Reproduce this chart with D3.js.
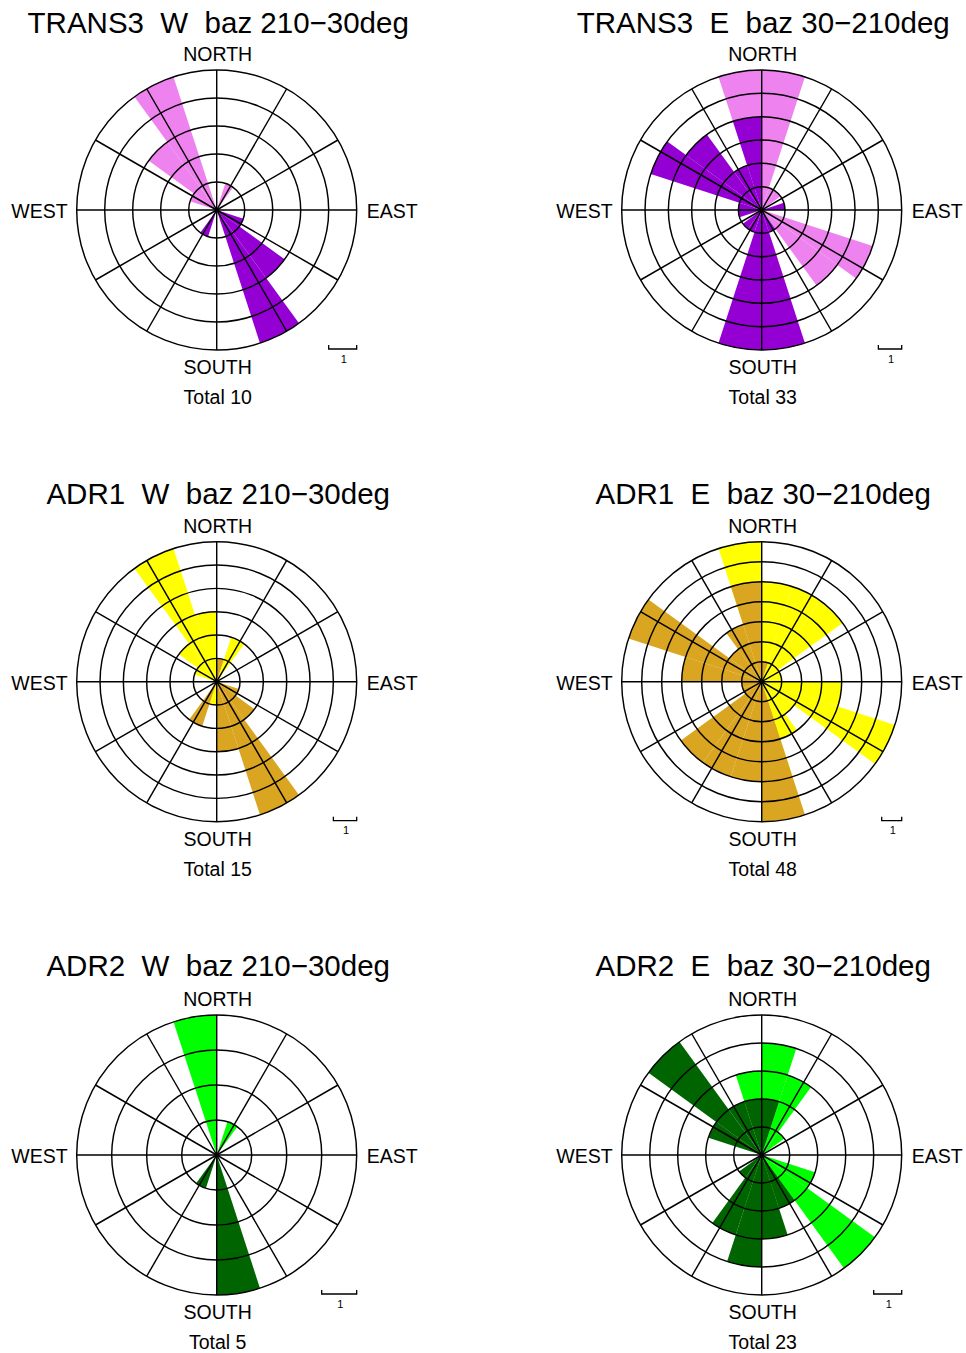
<!DOCTYPE html>
<html>
<head>
<meta charset="utf-8">
<script src="https://cdn.jsdelivr.net/npm/d3@7"></script>
<style>
  html, body { margin: 0; padding: 0; background: #ffffff; }
  svg { display: block; }
  text { font-family: "Liberation Sans", Arial, Helvetica, sans-serif; fill: #000; }
</style>
</head>
<body>
<svg id="chart" width="966" height="1353"></svg>
<script>
// ---------------- data ----------------
// 20 azimuth bins of 18 degrees, clockwise from north (bin i = [18i, 18i+18))
const binCount = 20;
const stations = ["TRANS3", "TRANS3", "ADR1", "ADR1", "ADR2", "ADR2"];
const sides    = ["W", "E", "W", "E", "W", "E"];
const bazRanges = ["210\u221230deg", "30\u2212210deg", "210\u221230deg", "30\u2212210deg", "210\u221230deg", "30\u2212210deg"];
const totals   = [10, 33, 15, 48, 5, 23];
const ringMax  = [5, 6, 6, 7, 4, 5];
const directionLabels = ["NORTH", "EAST", "SOUTH", "WEST"];
const scaleLabel = "1";

// light petals (measured directions)
const trans3W_light = [0,1,0,0,0, 0,0,0,0,0, 0,0,0,0,0, 0,1,3,5,0];
const trans3E_light = [6,1,1,0,0, 0,5,4,0,4, 0,0,0,0,0, 0,0,0,0,6];
const adr1W_light   = [0,2,0,0,0, 0,0,0,0,0, 1,0,0,0,0, 0,1,2,6,3];
const adr1E_light   = [5,5,5,1,1, 4,7,2,3,5, 1,0,0,0,0, 0,0,0,0,7];
const adr2W_light   = [0,1,0,0,0, 0,0,0,0,0, 0,0,0,0,0, 0,0,0,0,4];
const adr2E_light   = [4,3,1,0,0, 0,2,5,2,2, 2,0,0,0,0, 0,0,0,0,3];

// dark petals (directions + 180 deg), drawn on top
const trans3W_dark = [0,0,0,0,0, 0,1,3,5,0, 0,1,0,0,0, 0,0,0,0,0];
const trans3E_dark = [0,0,0,0,1, 0,0,0,1,6, 6,1,1,0,1, 1,5,4,2,4];
const adr1W_dark   = [1,0,0,0,0, 0,1,2,6,3, 0,2,0,0,0, 0,0,0,0,0];
const adr1E_dark   = [1,0,0,0,0, 0,0,0,0,7, 5,5,5,1,1, 4,7,2,3,5];
const adr2W_dark   = [0,0,0,0,0, 0,0,0,0,4, 0,1,0,0,0, 0,0,0,0,0];
const adr2E_dark   = [2,0,0,0,0, 0,0,0,2,3, 4,3,1,0,0, 0,2,5,2,2];

const lightSeries = [trans3W_light, trans3E_light, adr1W_light, adr1E_light, adr2W_light, adr2E_light];
const darkSeries  = [trans3W_dark, trans3E_dark, adr1W_dark, adr1E_dark, adr2W_dark, adr2E_dark];

// ---------------- styles / layout ----------------
const lightColors = ["#ee82ee", "#ee82ee", "#ffff00", "#ffff00", "#00ff00", "#00ff00"];
const darkColors  = ["#9400d3", "#9400d3", "#daa520", "#daa520", "#006400", "#006400"];
const colX = [216.7, 761.7];
const rowY = [210, 681.7, 1155];
const titleOffset = [37.5, 37.5, 39.5];
const R = 140;

const svg = d3.select("#chart");

lightSeries.forEach((light, p) => {
  const row = Math.floor(p / 2);
  const cx = colX[p % 2];
  const cy = rowY[row];
  const dark = darkSeries[p];
  const g = svg.append("g").attr("transform", `translate(${cx},${cy})`);

  const r = d3.scaleLinear().domain([0, ringMax[p]]).range([0, R]);
  const a = d3.scaleLinear().domain([0, binCount]).range([0, 2 * Math.PI]);
  const arc = d3.arc()
    .innerRadius(0)
    .outerRadius(d => r(d.v))
    .startAngle(d => a(d.i))
    .endAngle(d => a(d.i + 1));

  const toBins = arr => arr.map((v, i) => ({ v, i })).filter(d => d.v > 0);

  g.selectAll("path.light").data(toBins(light)).join("path")
    .attr("class", "light").attr("d", arc).attr("fill", lightColors[p]);
  g.selectAll("path.dark").data(toBins(dark)).join("path")
    .attr("class", "dark").attr("d", arc).attr("fill", darkColors[p]);

  // rings
  g.selectAll("circle.ring").data(d3.range(1, ringMax[p] + 1)).join("circle")
    .attr("class", "ring").attr("r", d => r(d))
    .attr("fill", "none").attr("stroke", "#000").attr("stroke-width", 1.45);

  // spokes every 30 degrees
  g.selectAll("line.spoke").data(d3.range(0, 360, 30)).join("line")
    .attr("class", "spoke")
    .attr("x1", 0).attr("y1", 0)
    .attr("x2", d => R * Math.sin(d * Math.PI / 180))
    .attr("y2", d => -R * Math.cos(d * Math.PI / 180))
    .attr("stroke", "#000").attr("stroke-width", 1.45);

  g.append("circle").attr("r", 1.8).attr("fill", "#000");

  // direction labels
  g.append("text").attr("x", 1).attr("y", -R - 9).attr("text-anchor", "middle")
    .attr("font-size", "19.5px").text(directionLabels[0]);
  g.append("text").attr("x", 1).attr("y", R + 24).attr("text-anchor", "middle")
    .attr("font-size", "19.5px").text(directionLabels[2]);
  g.append("text").attr("x", -R - 9).attr("y", 8).attr("text-anchor", "end")
    .attr("font-size", "19.5px").text(directionLabels[3]);
  g.append("text").attr("x", R + 10).attr("y", 8).attr("text-anchor", "start")
    .attr("font-size", "19.5px").text(directionLabels[1]);

  // total
  g.append("text").attr("x", 1).attr("y", R + 54).attr("text-anchor", "middle")
    .attr("font-size", "19.5px").text("Total " + totals[p]);

  // title
  g.append("text").attr("x", 1.5).attr("y", -R - titleOffset[row]).attr("text-anchor", "middle")
    .attr("font-size", "29.5px").style("white-space", "pre")
    .text(`${stations[p]}  ${sides[p]}  baz ${bazRanges[p]}`);

  // scale bar (1 count)
  const x1 = R, x0 = R - r(1), yb = R - 1;
  g.append("path")
    .attr("d", `M${x0},${yb - 4}V${yb}H${x1}V${yb - 4}`)
    .attr("fill", "none").attr("stroke", "#000").attr("stroke-width", 1.3);
  g.append("text").attr("x", (x0 + x1) / 2 + 1).attr("y", R + 12.5).attr("text-anchor", "middle")
    .attr("font-size", "11px").text(scaleLabel);
});
</script>
</body>
</html>
